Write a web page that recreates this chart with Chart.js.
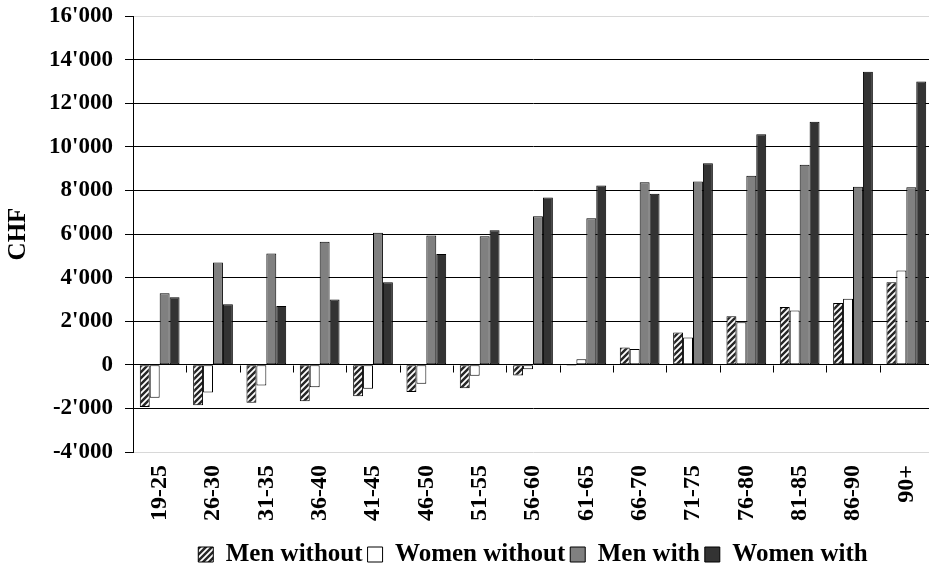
<!DOCTYPE html>
<html>
<head>
<meta charset="utf-8">
<script src="https://cdn.jsdelivr.net/npm/chart.js@4.4.0/dist/chart.umd.min.js"></script>
<style>
  html, body { margin: 0; padding: 0; background: #fff; overflow: hidden; }
  #wrap { width: 1050px; height: 577px; }
</style>
</head>
<body>
<div id="wrap"><canvas id="c" width="1050" height="577"></canvas></div>
<script>
const categories = ['19-25','26-30','31-35','36-40','41-45','46-50','51-55','56-60','61-65','66-70','71-75','76-80','81-85','86-90','90+'];
const menWithout   = [-1940, -1860, -1740, -1670, -1440, -1250, -1070, -490, -40, 790, 1480, 2230, 2650, 2830, 3790];
const womenWithout = [-1510, -1270, -950, -1030, -1100, -870, -500, -200, 260, 730, 1250, 1950, 2490, 3030, 4330];
const menWith      = [3280, 4690, 5100, 5650, 6060, 5930, 5900, 6810, 6720, 8370, 8410, 8670, 9180, 8170, 8140];
const womenWith    = [3100, 2780, 2700, 3000, 3790, 5080, 6170, 7680, 8230, 7850, 9240, 10580, 11150, 13440, 12990];
const seriesNames  = ['Men without', 'Women without', 'Men with', 'Women with'];
const yTickValues  = [-4000, -2000, 0, 2000, 4000, 6000, 8000, 10000, 12000, 14000, 16000];
const yTickLabels  = ["-4'000", "-2'000", "0", "2'000", "4'000", "6'000", "8'000", "10'000", "12'000", "14'000", "16'000"];
const yTitle = 'CHF';

function makeHatch() {
  const s = 6;
  const p = document.createElement('canvas');
  p.width = s; p.height = s;
  const g = p.getContext('2d');
  g.fillStyle = '#262626';
  g.fillRect(0, 0, s, s);
  g.strokeStyle = '#ffffff';
  g.lineWidth = 1.8;
  g.beginPath();
  g.moveTo(0, s); g.lineTo(s, 0);
  g.moveTo(-s/2, s/2); g.lineTo(s/2, -s/2);
  g.moveTo(s/2, s*1.5); g.lineTo(s*1.5, s/2);
  g.stroke();
  return g.createPattern(p, 'repeat');
}
const hatch = makeHatch();

const FONT = "'Liberation Serif', 'Times New Roman', serif";

const zeroTicks = {
  id: 'zeroTicks',
  afterDatasetsDraw(chart) {
    const x = chart.scales.x, y = chart.scales.y;
    const y0 = y.getPixelForValue(0);
    const n = categories.length;
    const w = (x.right - x.left) / n;
    const c = chart.ctx;
    c.save();
    c.strokeStyle = '#000';
    c.lineWidth = 1;
    c.beginPath();
    for (let i = 0; i <= n; i++) {
      const px = Math.round(x.getPixelForValue(i) - w / 2) + 0.5;
      c.moveTo(px, Math.round(y0) + 0.5);
      c.lineTo(px, Math.round(y0) + 7.5);
    }
    c.stroke();
    c.restore();
  }
};

new Chart(document.getElementById('c'), {
  type: 'bar',
  data: {
    labels: categories,
    datasets: [
      { label: seriesNames[0], data: menWithout,   backgroundColor: hatch,     borderColor: '#000', borderWidth: 1, borderSkipped: false },
      { label: seriesNames[1], data: womenWithout, backgroundColor: '#ffffff', borderColor: '#000', borderWidth: 1, borderSkipped: false },
      { label: seriesNames[2], data: menWith,      backgroundColor: '#808080', borderColor: '#000', borderWidth: 1, borderSkipped: false },
      { label: seriesNames[3], data: womenWith,    backgroundColor: '#333333', borderColor: '#000', borderWidth: 1, borderSkipped: false }
    ]
  },
  options: {
    responsive: false,
    animation: false,
    events: [],
    layout: { padding: { left: 0, top: 16, right: 117, bottom: 0 } },
    datasets: { bar: { categoryPercentage: 0.745, barPercentage: 1.0 } },
    plugins: {
      legend: {
        position: 'bottom',
        fullSize: false,
        labels: {
          boxWidth: 15, boxHeight: 15, padding: 5,
          color: '#000',
          font: { family: FONT, size: 25, weight: 'bold' }
        }
      },
      tooltip: { enabled: false }
    },
    scales: {
      x: {
        grid: { display: false, drawTicks: false, tickLength: 0 },
        border: { display: false },
        ticks: {
          minRotation: 90, maxRotation: 90, padding: 13, autoSkip: false,
          color: '#000',
          font: { family: FONT, size: 24, weight: 'bold' }
        },
        afterFit(scale) { scale.height = 85; scale.paddingLeft = 0; scale.paddingRight = 0; }
      },
      y: {
        min: -4000, max: 16000,
        ticks: {
          stepSize: 2000, padding: 12, color: '#000',
          font: { family: FONT, size: 23, weight: 'bold' },
          callback: (v) => { const i = yTickValues.indexOf(v); return i >= 0 ? yTickLabels[i] : ''; }
        },
        grid: {
          color: (ctx) => (ctx.tick && (ctx.tick.value === 16000 || ctx.tick.value === -4000)) ? '#d8d8d8' : '#000',
          tickColor: '#000', tickLength: 8, lineWidth: 1
        },
        border: { display: true, color: '#000', width: 1 },
        title: {
          display: true, text: yTitle, color: '#000',
          font: { family: FONT, size: 25, weight: 'bold' },
          padding: { top: 4, bottom: 0 }
        },
        afterFit(scale) { scale.width = 133; scale.paddingTop = 0; scale.paddingBottom = 0; }
      }
    }
  },
  plugins: [zeroTicks]
});
</script>
</body>
</html>
